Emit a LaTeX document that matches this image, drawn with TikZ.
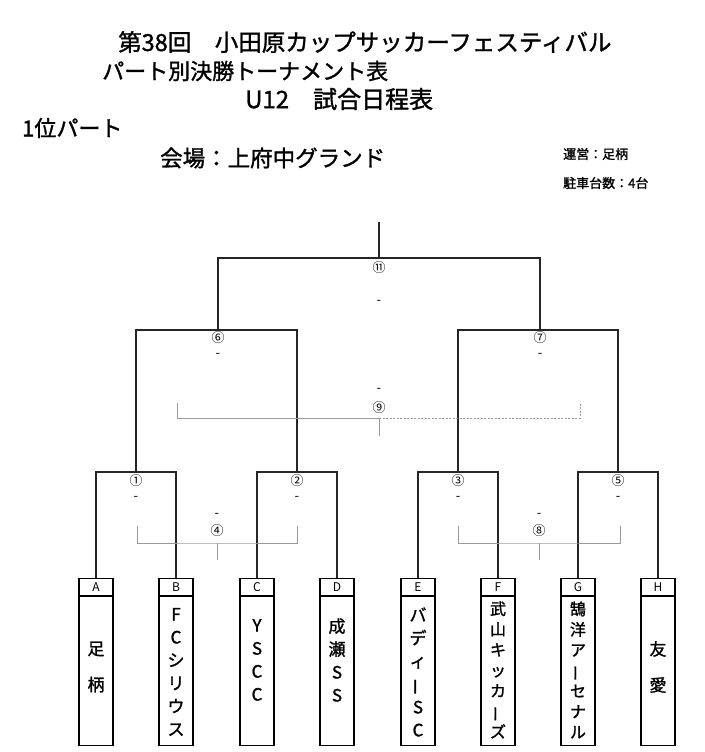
\documentclass[tikz,border=0pt]{standalone}
\usepackage{fontspec}
\setmainfont{Noto Sans CJK JP}
\newfontfamily\hb[FakeBold=1.3]{Noto Sans CJK JP}
\begin{document}
\begin{tikzpicture}[x=1pt,y=-1pt,
  br/.style={line width=1.1pt,black!85},
  gb/.style={line width=0.9pt,gray!80},
  gd/.style={line width=0.9pt,gray!80,dash pattern=on 2pt off 1.5pt},
  lbl/.style={inner sep=0pt,font=\fontsize{13}{13}\selectfont},
  team/.style={draw,line width=1.1pt,minimum width=34pt,minimum height=167pt,inner sep=0pt,anchor=north},
  hd/.style={inner sep=0pt,font=\fontsize{12}{12}\selectfont},
  nm/.style={inner sep=0pt,align=center},
  ti/.style={anchor=west,inner sep=0pt}]
\useasboundingbox (0,0) rectangle (704,752);
% header
\node[ti,font=\hb\fontsize{23.5}{23}\selectfont] (t1) at (118,42) {第38回　小田原カップサッカーフェスティバル};
\node[ti,font=\hb\fontsize{22}{22}\selectfont] (t2) at (102,71) {パート別決勝トーナメント表};
\node[ti,font=\hb\fontsize{24}{24}\selectfont] (t3) at (245,99) {U12　試合日程表};
\node[ti,font=\hb\fontsize{22}{22}\selectfont] (t4) at (22,128) {1位パート};
\node[ti,font=\hb\fontsize{22.5}{22}\selectfont] (t5) at (160,158) {会場：上府中グランド};
\node[ti,font=\hb\fontsize{13}{13}\selectfont] (t6) at (563,154) {運営：足柄};
\node[ti,font=\hb\fontsize{13}{13}\selectfont] (t7) at (563,183) {駐車台数：4台};
% teams
\foreach \n/\x/\l in {a/96/A,b/176/B,c/257/C,d/337/D,e/418/E,f/498/F,g/578/G,h/658/H}{
  \node[team] (\n) at (\x,578) {};
  \draw[line width=1.1pt] (\x-17,596) -- (\x+17,596);
  \node[hd] (\n l) at (\x,587) {\l};
}
\newcommand\vbar{\rotatebox[origin=c]{90}{ー}}
\node[nm,font=\hb\fontsize{17}{20}\selectfont] (an) at (96,667) {足\\[16pt]柄};
\node[nm,font=\hb\fontsize{17}{23}\selectfont] (bn) at (176,672) {F\\C\\シ\\リ\\ウ\\ス};
\node[nm,font=\hb\fontsize{17}{23}\selectfont] (cn) at (257,660) {Y\\S\\C\\C};
\node[nm,font=\hb\fontsize{17}{23}\selectfont] (dn) at (337,660) {成\\瀬\\S\\S};
\node[nm,font=\hb\fontsize{17}{23}\selectfont] (en) at (418,672) {バ\\デ\\ィ\\\vbar\\S\\C};
\node[nm,font=\hb\fontsize{16}{20.5}\selectfont] (fn) at (498,670) {武\\山\\キ\\ッ\\カ\\\vbar\\ズ};
\node[nm,font=\hb\fontsize{16}{20.5}\selectfont] (gn) at (578,670) {鵠\\洋\\ア\\\vbar\\セ\\ナ\\ル};
\node[nm,font=\hb\fontsize{17}{20}\selectfont] (hn) at (658,667) {友\\[16pt]愛};
% round 1
\foreach \m/\l/\r/\x/\k in {m1/a/b/136/①,m2/c/d/297/②,m3/e/f/458/③,m5/g/h/618/⑤}{
  \coordinate (\m) at (\x,472);
  \draw[br] (\l.north) |- (\m) -| (\r.north);
  \node[lbl] (\m c) at (\x,481) {\k};
  \node[lbl] (\m d) at (\x,498) {-};
}
% round 2
\coordinate (m6) at (218,330);
\coordinate (m7) at (540,330);
\draw[br] (m1) |- (m6) -| (m2);
\draw[br] (m3) |- (m7) -| (m5);
\node[lbl] (m6c) at (218,338) {⑥};
\node[lbl] (m6d) at (218,355) {-};
\node[lbl] (m7c) at (540,338) {⑦};
\node[lbl] (m7d) at (540,355) {-};
% final
\coordinate (m11) at (379,258);
\coordinate (top) at (379,222);
\draw[br] (m6) |- (m11) -| (m7);
\draw[br] (top) -- (m11);
\node[lbl] (m11c) at (379,268) {⑪};
\node[lbl] (m11d) at (379,302) {-};
% third place 9
\coordinate (p9) at (379,418);
\coordinate (p9l) at (177,403);
\coordinate (p9r) at (580,403);
\coordinate (p9b) at (379,436);
\draw[gb] (p9l) |- (p9);
\draw[gd] (p9) -| (p9r);
\draw[gb] (p9) -- (p9b);
\node[lbl] (m9c) at (379,408) {⑨};
\node[lbl] (m9d) at (379,390) {-};
% 4 and 8
\foreach \m/\x/\a/\b/\k in {m4/217/137/297/④,m8/539/458/620/⑧}{
  \coordinate (\m) at (\x,543);
  \coordinate (\m l) at (\a,526);
  \coordinate (\m r) at (\b,526);
  \coordinate (\m b) at (\x,560);
  \draw[gb] (\m l) |- (\m) -| (\m r);
  \draw[gb] (\m) -- (\m b);
  \node[lbl] (\m c) at (\x,531) {\k};
  \node[lbl] (\m d) at (\x,515) {-};
}
\end{tikzpicture}
\end{document}
